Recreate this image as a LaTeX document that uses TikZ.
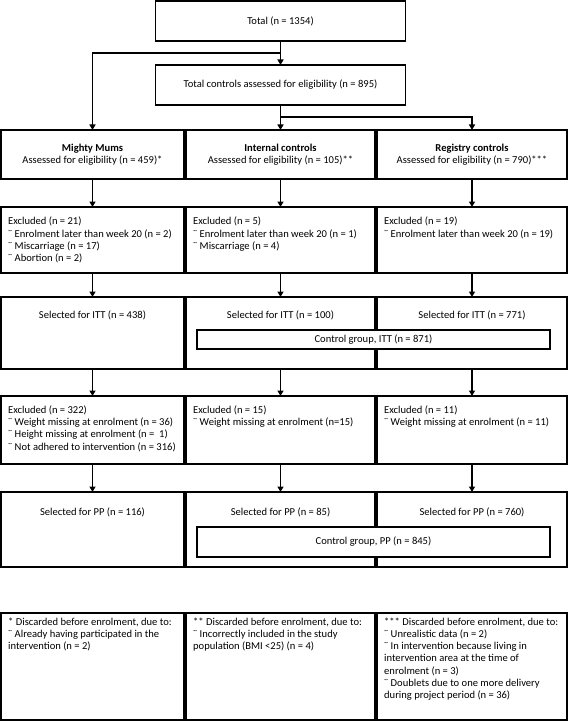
\documentclass[tikz,border=0pt]{standalone}
\usepackage{fontspec}
\setmainfont{Carlito}
\usetikzlibrary{arrows.meta}
\begin{document}
\begin{tikzpicture}[x=1bp,y=-1bp,
    box/.style={draw,line width=1.4bp,inner sep=0pt,outer sep=0pt,align=center,
      font=\fontsize{10.6}{12.3}\selectfont},
    txt/.style={inner sep=0pt,anchor=north west,align=left,
      font=\fontsize{10.6}{12.3}\selectfont},
    ctxt/.style={inner sep=0pt,font=\fontsize{10.6}{12.3}\selectfont},
    arr/.style={line width=1.4bp,-{Triangle[length=5.5bp,width=6bp]}}]
  \useasboundingbox (0,0) rectangle (568,721);

  % top of the chart
  \node[box,minimum width=250bp,minimum height=40bp] (total) at (280.5,21) {Total (n = 1354)};
  \node[box,minimum width=250bp,minimum height=40bp] (controls) at (280.5,85) {Total controls assessed for eligibility (n = 895)};
  \coordinate (split1) at (0,53);
  \coordinate (split2) at (0,117);

  % assessed for eligibility
  \node[box,minimum width=183bp,minimum height=49bp] (mm) at (92.5,154.5)
    {\textbf{Mighty Mums}\\Assessed for eligibility (n = 459)*};
  \node[box,minimum width=189bp,minimum height=49bp] (ic) at (280.5,154.5)
    {\textbf{Internal controls}\\Assessed for eligibility (n = 105)**};
  \node[box,minimum width=190bp,minimum height=49bp] (rc) at (472,154.5)
    {\textbf{Registry controls}\\Assessed for eligibility (n = 790)***};

  % first exclusion
  \node[box,minimum width=183bp,minimum height=66bp] (mmx) at (92.5,240) {};
  \node[box,minimum width=189bp,minimum height=66bp] (icx) at (280.5,240) {};
  \node[box,minimum width=190bp,minimum height=66bp] (rcx) at (472,240) {};
  \node[txt] (mmxt) at (8,217) {Excluded (n = 21)\\¨ Enrolment later than week 20 (n = 2)\\¨ Miscarriage (n = 17)\\¨ Abortion (n = 2)};
  \node[txt] (icxt) at (193,217) {Excluded (n = 5)\\¨ Enrolment later than week 20 (n = 1)\\¨ Miscarriage (n = 4)};
  \node[txt] (rcxt) at (384,217) {Excluded (n = 19)\\¨ Enrolment later than week 20 (n = 19)};

  % intention to treat
  \node[box,minimum width=183bp,minimum height=72bp] (mmitt) at (92.5,333) {};
  \node[box,minimum width=189bp,minimum height=72bp] (icitt) at (280.5,333) {};
  \node[box,minimum width=190bp,minimum height=72bp] (rcitt) at (472,333) {};
  \node[ctxt] (mmittt) at (92.5,315) {Selected for ITT (n = 438)};
  \node[ctxt] (icittt) at (280.5,315) {Selected for ITT (n = 100)};
  \node[ctxt] (rcittt) at (472,315) {Selected for ITT (n = 771)};
  \node[box,fill=white,minimum width=353bp,minimum height=19bp] (cgitt) at (373.5,339.5) {Control group, ITT (n = 871)};

  % second exclusion
  \node[box,minimum width=183bp,minimum height=68bp] (mmy) at (92.5,430) {};
  \node[box,minimum width=189bp,minimum height=68bp] (icy) at (280.5,430) {};
  \node[box,minimum width=190bp,minimum height=68bp] (rcy) at (472,430) {};
  \node[txt] (mmyt) at (8,405.5) {Excluded (n = 322)\\¨ Weight missing at enrolment (n = 36)\\¨ Height missing at enrolment (n =~~1)\\¨ Not adhered to intervention (n = 316)};
  \node[txt] (icyt) at (193,405.5) {Excluded (n = 15)\\¨ Weight missing at enrolment (n=15)};
  \node[txt] (rcyt) at (384,405.5) {Excluded (n = 11)\\¨ Weight missing at enrolment (n = 11)};

  % per protocol
  \node[box,minimum width=183bp,minimum height=75bp] (mmpp) at (92.5,529.5) {};
  \node[box,minimum width=189bp,minimum height=75bp] (icpp) at (280.5,529.5) {};
  \node[box,minimum width=190bp,minimum height=75bp] (rcpp) at (472,529.5) {};
  \node[ctxt] (mmppt) at (92.5,512) {Selected for PP (n = 116)};
  \node[ctxt] (icppt) at (280.5,512) {Selected for PP (n = 85)};
  \node[ctxt] (rcppt) at (472,512) {Selected for PP (n = 760)};
  \node[box,fill=white,minimum width=353bp,minimum height=30bp] (cgpp) at (373.5,542) {Control group, PP (n = 845)};

  % footnotes
  \node[box,minimum width=183bp,minimum height=107bp] (fna) at (92.5,666.5) {};
  \node[box,minimum width=189bp,minimum height=107bp] (fnb) at (280.5,666.5) {};
  \node[box,minimum width=190bp,minimum height=107bp] (fnc) at (472,666.5) {};
  \node[txt] (fnat) at (8,617.5) {* Discarded before enrolment, due to:\\¨ Already having participated in the\\intervention (n = 2)};
  \node[txt] (fnbt) at (193,617.5) {** Discarded before enrolment, due to:\\¨ Incorrectly included in the study\\population (BMI <25) (n = 4)};
  \node[txt] (fnct) at (384,617.5) {*** Discarded before enrolment, due to:\\¨ Unrealistic data (n = 2)\\¨ In intervention because living in\\intervention area at the time of\\enrolment (n = 3)\\¨ Doublets due to one more delivery\\during project period (n = 36)};

  % arrows
  \draw[arr] (total.south) -- (controls.north);
  \draw[arr] (total.south |- split1) -| (mm.north);
  \draw[arr] (controls.south) -- (ic.north);
  \draw[arr] (controls.south |- split2) -| (rc.north);
  \foreach \a/\b in {mm/mmx,ic/icx,rc/rcx,mmx/mmitt,icx/icitt,rcx/rcitt,
      mmitt/mmy,icitt/icy,rcitt/rcy,mmy/mmpp,icy/icpp,rcy/rcpp}
    \draw[arr] (\a.south) -- (\b.north);
\end{tikzpicture}
\end{document}
